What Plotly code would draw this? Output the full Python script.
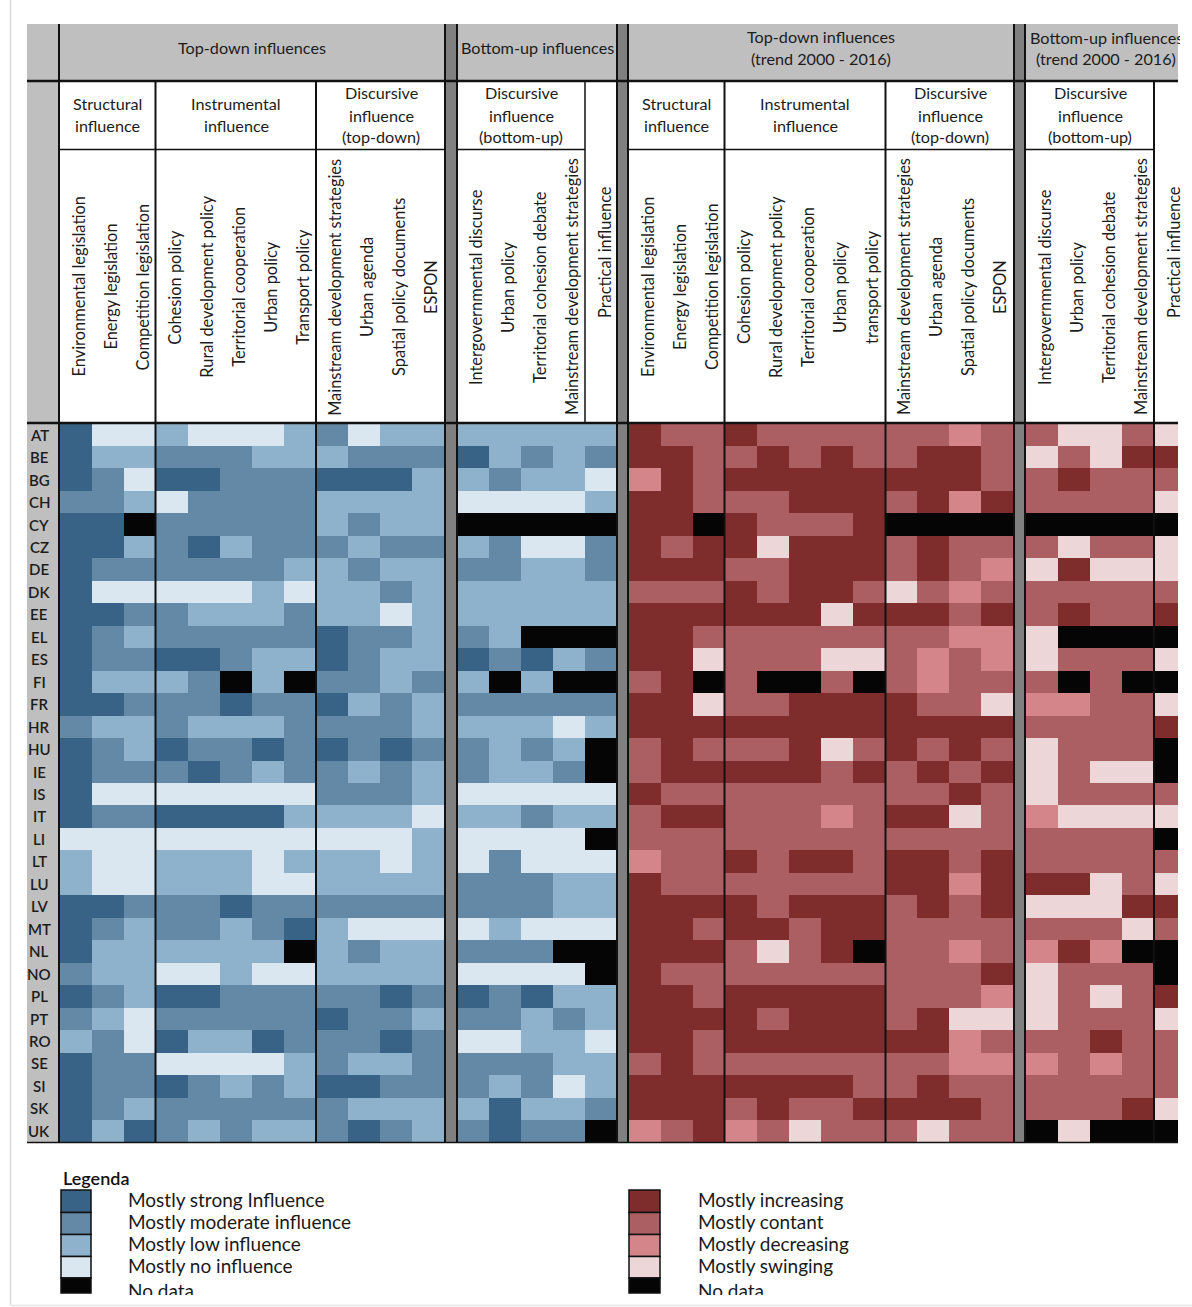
import plotly.graph_objects as go

W, H = 1192, 1307

countries = ["AT","BE","BG","CH","CY","CZ","DE","DK","EE","EL","ES","FI","FR","HR","HU","IE",
             "IS","IT","LI","LT","LU","LV","MT","NL","NO","PL","PT","RO","SE","SI","SK","UK"]

columns_top = ["Environmental legislation","Energy legislation","Competition legislation",
               "Cohesion policy","Rural development policy","Territorial cooperation","Urban policy","Transport policy",
               "Mainstream development strategies","Urban agenda","Spatial policy documents","ESPON"]
columns_top_trend = columns_top[:7] + ["transport policy"] + columns_top[8:]
columns_bottom = ["Intergovernmental discurse","Urban policy","Territorial cohesion debate",
                  "Mainstream development strategies","Practical influence"]

# 1 strong, 2 moderate, 3 low, 4 none, 0 no data
influence_top = [
 [1,4,4,3,4,4,4,3,2,4,3,3],[1,3,3,2,2,2,3,3,3,2,2,2],[1,2,4,1,1,2,2,2,1,1,1,3],[2,2,3,4,2,2,2,2,3,3,3,3],
 [1,1,0,2,2,2,2,2,3,2,3,3],[1,1,3,2,1,3,2,2,2,3,2,2],[1,2,2,2,2,2,2,3,3,2,3,3],[1,4,4,4,4,4,3,4,3,3,2,3],
 [1,1,2,2,3,3,3,2,3,3,4,3],[1,2,3,2,2,2,2,2,1,2,2,3],[1,2,2,1,1,2,3,3,1,2,3,3],[1,3,3,3,2,0,3,0,2,2,3,2],
 [1,1,2,2,2,1,2,2,1,3,2,3],[2,3,3,2,3,3,3,2,2,2,2,3],[1,2,3,1,2,2,1,2,1,2,1,2],[1,2,2,2,1,2,3,2,2,3,2,3],
 [1,4,4,4,4,4,4,4,2,2,2,3],[1,2,2,1,1,1,1,3,3,3,3,4],[4,4,4,4,4,4,4,4,4,4,4,3],[3,4,4,3,3,3,4,3,3,3,4,3],
 [3,4,4,3,3,3,4,4,3,3,3,3],[1,1,2,2,2,1,2,2,2,2,2,2],[1,2,3,2,2,3,2,1,3,4,4,4],[1,3,3,3,3,3,3,0,3,2,3,3],
 [2,3,3,4,4,3,4,4,3,3,3,3],[1,2,3,1,1,2,2,2,2,2,1,2],[2,3,4,2,2,2,2,2,1,2,2,3],[3,2,4,1,3,3,1,2,2,2,1,2],
 [1,2,2,4,4,4,4,3,2,3,3,2],[1,2,2,1,2,3,2,3,1,1,2,2],[1,2,3,2,2,2,2,2,2,3,3,3],[1,3,1,2,3,2,3,3,2,1,2,3]]
influence_bottom = [
 [3,3,3,3,3],[1,3,2,3,2],[3,2,3,3,4],[4,4,4,4,3],[0,0,0,0,0],[3,2,4,4,2],[2,2,3,3,2],[3,3,3,3,3],
 [3,3,3,3,3],[2,3,0,0,0],[1,2,1,3,2],[3,0,3,0,0],[2,2,2,2,2],[3,3,3,4,3],[2,3,2,3,0],[2,3,3,2,0],
 [4,4,4,4,4],[3,3,2,3,3],[4,4,4,4,0],[4,2,4,4,4],[2,2,2,3,3],[2,2,2,3,3],[4,3,4,4,4],[2,2,2,0,0],
 [4,4,4,4,0],[1,2,1,3,3],[2,2,3,2,3],[4,4,3,3,4],[2,2,2,3,3],[2,3,2,4,3],[3,1,3,3,2],[2,1,2,2,0]]
# 1 increasing, 2 constant, 3 decreasing, 4 swinging, 0 no data
trend_top = [
 [1,2,2,1,2,2,2,2,2,2,3,2],[1,1,2,2,1,2,1,2,2,1,1,2],[3,1,2,1,1,1,1,1,1,1,1,2],[1,1,2,2,2,1,1,1,2,1,3,1],
 [1,1,0,1,2,2,2,1,0,0,0,0],[1,2,1,1,4,1,1,1,2,1,2,2],[1,1,1,2,2,1,1,1,2,1,2,3],[2,2,2,1,2,1,1,2,4,2,3,2],
 [1,1,1,1,1,1,4,1,1,1,2,1],[1,1,2,2,2,2,2,2,2,2,3,3],[1,1,4,2,2,2,4,4,2,3,2,3],[2,1,0,2,0,0,2,0,2,3,2,2],
 [1,1,4,2,2,1,1,1,1,2,2,4],[1,1,1,1,1,1,1,1,1,1,1,1],[2,1,2,2,2,1,4,2,1,2,1,2],[2,1,1,1,1,1,2,1,2,1,2,1],
 [1,2,2,2,2,2,2,2,2,2,1,2],[2,1,1,2,2,2,3,2,1,1,4,2],[2,2,2,2,2,2,2,2,2,2,2,2],[3,2,2,1,2,1,1,2,1,1,2,1],
 [1,2,2,2,2,2,2,2,1,1,3,1],[1,1,1,1,2,1,1,1,2,1,2,1],[1,1,2,1,1,2,1,1,2,2,2,2],[1,1,1,2,4,2,1,0,2,2,3,2],
 [1,2,2,2,2,2,2,2,2,2,2,1],[1,1,2,1,1,1,1,1,2,2,2,3],[1,1,1,1,2,1,1,1,2,1,4,4],[1,1,2,1,1,1,1,1,1,1,3,2],
 [2,1,2,2,2,2,2,2,2,2,3,3],[1,1,1,1,1,1,1,2,2,1,2,2],[1,1,1,2,1,2,2,1,1,1,1,2],[3,2,1,3,2,4,2,2,2,4,2,2]]
trend_bottom = [
 [2,4,4,2,4],[4,2,4,1,1],[2,1,2,2,2],[2,2,2,2,4],[0,0,0,0,0],[2,4,2,2,4],[4,1,4,4,4],[2,2,2,2,2],
 [2,1,2,2,1],[4,0,0,0,0],[4,2,2,2,4],[2,0,2,0,0],[3,3,2,2,4],[2,2,2,2,1],[4,2,2,2,0],[4,2,4,4,0],
 [4,2,2,2,2],[3,4,4,4,4],[2,2,2,2,0],[2,2,2,2,2],[1,1,4,2,4],[4,4,4,1,1],[2,2,2,4,2],[3,1,3,0,0],
 [4,2,2,2,0],[4,2,4,2,1],[4,2,2,2,4],[2,2,1,2,2],[3,2,3,2,2],[2,2,2,2,2],[2,2,2,1,4],[0,4,0,0,0]]

blue_levels = ["#050505", "#396386", "#6489A6", "#8EB2CB", "#DAE6F0"]
red_levels = ["#050505", "#7F2D2C", "#AB5F63", "#D38589", "#EDD6D8"]
blue_legend = ["Mostly strong Influence","Mostly moderate influence","Mostly low influence","Mostly no influence","No data"]
red_legend = ["Mostly increasing","Mostly contant","Mostly decreasing","Mostly swinging","No data"]

FONT = "Lato"
INK = "#1c1c1c"

def px(x): return x / W
def py(y): return 1 - y / H

def scale(levels):
    s = []
    for i, c in enumerate(levels):
        s += [[i / 5, c], [(i + 1) / 5, c]]
    return s

panels = [
    ("x",  59.5, 444, columns_top, influence_top, blue_levels, len(columns_top) - .5),
    ("x2", 457, 617, columns_bottom, influence_bottom, blue_levels, len(columns_bottom) - .5),
    ("x3", 629, 1013, columns_top_trend, trend_top, red_levels, len(columns_top_trend) - .5),
    ("x4", 1026, 1178, columns_bottom, trend_bottom, red_levels, 4.25),
]

fig = go.Figure()
layout = dict(
    width=W, height=H, autosize=False, margin=dict(l=0, r=0, t=0, b=0, pad=0),
    paper_bgcolor="white", plot_bgcolor="rgba(0,0,0,0)", showlegend=False,
    yaxis=dict(domain=[py(1142), py(423.5)], type="category", categoryorder="array", categoryarray=countries,
               range=[len(countries) - .5, -.5], visible=False, fixedrange=True),
)
annotations, shapes = [], []

def text(s, x, y, size=16.2, xref="paper", color=INK, **kw):
    a = dict(text=s, x=px(x) if xref == "paper" else x, y=py(y), xref=xref, yref="paper", showarrow=False,
             xanchor="center", yanchor="middle", font=dict(family=FONT, size=size, color=color))
    a.update(kw)
    annotations.append(a)

for ax, x0, x1, cols, z, levels, xmax in panels:
    fig.add_trace(go.Heatmap(z=z, x=cols, y=countries, xaxis=ax, yaxis="y", zmin=-.5, zmax=4.5,
                             colorscale=scale(levels), showscale=False, hoverinfo="skip"))
    name = "xaxis" + ax[1:]
    layout[name] = dict(domain=[px(x0), px(x1)], type="category", categoryorder="array", categoryarray=cols,
                        range=[-.5, xmax], anchor="y", visible=False, fixedrange=True)
    for c in cols:
        text(c, c, 252 if c == "Practical influence" else 287, size=16.4, xref=ax, textangle=-90, xshift=3)

def rect(x0, y0, x1, y1, fill, layer="below", line=None, lw=0):
    shapes.append(dict(type="rect", xref="paper", yref="paper", x0=px(x0), x1=px(x1), y0=py(y0), y1=py(y1),
                       fillcolor=fill, layer=layer, line=dict(color=line or fill, width=lw)))

def seg(x0, y0, x1, y1, lw=2, color="#111111"):
    shapes.append(dict(type="line", xref="paper", yref="paper", x0=px(x0), x1=px(x1), y0=py(y0), y1=py(y1),
                       layer="above", line=dict(color=color, width=lw)))

GREY, DARK = "#BFBFBF", "#808080"
rect(27, 24, 1178, 81, GREY)
rect(27, 81, 59, 1143, GREY)
for a, b in [(445, 457), (617, 628), (1014, 1025)]:
    rect(a, 24, b, 1142, DARK, layer="above")
    seg(a, 24, a, 1142); seg(b, 24, b, 1142)

seg(59, 24, 59, 1142, 2)
for x in [155.5, 316, 724.5, 885.5, 1154]:
    seg(x, 81, x, 1142, 2)
seg(585, 81, 585, 424, 1.5)
seg(27, 81, 1178, 81, 2.5)
seg(27, 423, 1178, 423, 2.5)
seg(27, 1142.5, 1178, 1142.5, 1.5)
for a, b in [(59, 445), (457, 585), (628, 1014), (1025, 1154)]:
    seg(a, 149.5, b, 149.5, 1.5)
seg(10.5, 0, 10.5, 1305, 1.5, "#D9D9D9")
seg(10.5, 1305.5, 1192, 1305.5, 1.5, "#E4E4E4")

for c in countries:
    annotations.append(dict(text=c, x=px(39), y=c, xref="paper", yref="y", showarrow=False,
                            xanchor="center", yanchor="middle",
                            font=dict(family=FONT, size=15, color=INK, weight=600)))

text("Top-down influences", 252, 47)
text("Bottom-up influences", 537, 47)
text("Top-down influences", 821, 37)
text("(trend 2000 - 2016)", 821, 58.5)
text("Bottom-up influences", 1028, 37, xanchor="left", width=150, align="left", height=20)
text("(trend 2000 - 2016)", 1106, 58.5)

for cx, first in [(107, "Structural"), (236, "Instrumental"), (676, "Structural"), (805, "Instrumental")]:
    text(first, cx, 103.5); text("influence", cx, 125.5)
for cx, last in [(381, "(top-down)"), (521, "(bottom-up)"), (950, "(top-down)"), (1090, "(bottom-up)")]:
    text("Discursive", cx, 92.5); text("influence", cx, 115); text(last, cx, 137)

# legend
text("Legenda", 61, 1178, xanchor="left", font=dict(family=FONT, size=18, color="#111111", weight=600))
tops = [1190, 1212.5, 1234.5, 1256.5, 1278]
bots = [1212.5, 1234.5, 1256.5, 1278, 1293]
mids = [1199, 1221, 1243, 1265]
for (sx0, sx1, tx, levels, labels) in [(61, 91, 126, blue_levels, blue_legend), (629, 660, 696, red_levels, red_legend)]:
    order = levels[1:] + levels[:1]
    for i, (c, lab) in enumerate(zip(order, labels)):
        rect(sx0, tops[i], sx1, bots[i], c, layer="above", line="#111111", lw=1.5)
        if i < 4:
            text(lab, tx, mids[i], size=19, xanchor="left", color="#1a1a1a")
        else:
            text(lab, tx, 1277, size=19, xanchor="left", yanchor="top", color="#1a1a1a", width=90, height=16,
                 align="left", valign="top")

layout["annotations"] = annotations
layout["shapes"] = shapes
fig.update_layout(**layout)
fig.write_html("out.html", config={"displayModeBar": False},
               post_script="document.body.style.margin='0';document.body.style.overflow='hidden';")
